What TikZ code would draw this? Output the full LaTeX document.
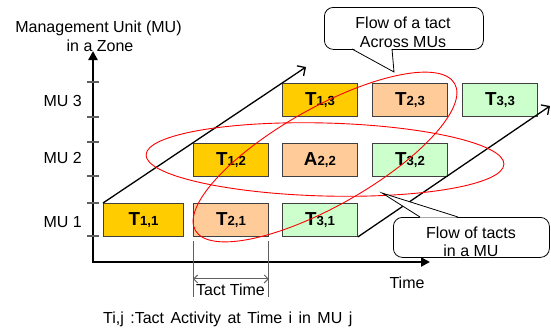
\documentclass[tikz,border=0pt]{standalone}
\usepackage{fontspec}
\setmainfont{Liberation Sans}
\usetikzlibrary{arrows.meta,calc}
\definecolor{cyel}{HTML}{FFCC00}
\definecolor{cpea}{HTML}{FFCC99}
\definecolor{cgrn}{HTML}{CCFFCC}
\definecolor{cedge}{HTML}{404040}
\definecolor{ctick}{HTML}{606060}
\newcommand{\tlab}[3]{{\fontsize{18.8}{18.8}\selectfont\bfseries #1\fontsize{13.2}{13.2}\selectfont #2,#3}}
\begin{document}
\begin{tikzpicture}[x=1pt,y=-1pt,font=\fontsize{16}{16}\selectfont,
  box/.style={draw=cedge,line width=0.9pt,minimum width=75pt,minimum height=33pt,inner sep=0pt,anchor=north west},
  lbl/.style={anchor=base,inner sep=0pt},
  diag/.style={line width=1.3pt,-{Straight Barb[length=6pt,width=12pt,line width=1.3pt]}},
  axis/.style={line width=2.8pt,line join=miter},
  tick/.style={ctick,line width=1.2pt},
  ring/.style={red,line width=0.9pt},
  cbox/.style={draw=black,line width=0.8pt,fill=white,rounded corners=9pt,inner sep=0pt,anchor=north west},
  dim/.style={ctick,line width=1pt}]
\useasboundingbox (0,0) rectangle (551,327);
% boxes
\node[box,fill=cyel,minimum width=80pt] (T11) at (103,203) {\tlab{T}{1}{1}};
\node[box,fill=cpea] (T21) at (193,203) {\tlab{T}{2}{1}};
\node[box,fill=cgrn] (T31) at (282,203) {\tlab{T}{3}{1}};
\node[box,fill=cyel] (T12) at (193,143) {\tlab{T}{1}{2}};
\node[box,fill=cpea] (A22) at (282,143) {\tlab{A}{2}{2}};
\node[box,fill=cgrn] (T32) at (372,143) {\tlab{T}{3}{2}};
\node[box,fill=cyel] (T13) at (282,83) {\tlab{T}{1}{3}};
\node[box,fill=cpea] (T23) at (372,83) {\tlab{T}{2}{3}};
\node[box,fill=cgrn] (T33) at (462,83) {\tlab{T}{3}{3}};
% axes
\coordinate (O) at (93,262);
\coordinate (Ytop) at (93,51);
\coordinate (Xend) at (430,262);
\draw[axis,{Triangle[length=9pt,width=9pt]}-{Triangle[length=9pt,width=9pt]}] (Ytop) -- (O) -- (Xend);
\foreach \y in {82,117,142,176,203,236} \draw[tick] (87,\y) -- (99,\y);
\node[lbl,anchor=base east] (mu3) at (82,106) {MU 3};
\node[lbl,anchor=base east] (mu2) at (82,163) {MU 2};
\node[lbl,anchor=base east] (mu1) at (82,227) {MU 1};
\node[lbl] (ttl1) at (98.5,32) {Management Unit (MU)};
\node[lbl] (ttl2) at (100,51) {in a Zone};
\node[lbl] (tim) at (407,288) {Time};
% diagonals
\coordinate (L1) at (306,67);
\coordinate (L2) at (550,106);
\draw[diag] (T11.north west) -- (L1);
\draw[diag] (T31.south east) -- (L2);
% red ellipses
\draw[ring,rotate around={-1.5:(325,159.5)}] (325,159.5) ellipse [x radius=179pt,y radius=36.5pt];
\draw[ring,rotate around={29.5:(325,157)}] (325,157) ellipse [x radius=149pt,y radius=49pt];
% top callout
\node[cbox,minimum width=159pt,minimum height=42pt] (C1) at (324,7) {};
\fill[white] (352.5,48.3) -- (394,72) -- (391.6,48.3) -- cycle;
\coordinate (P1) at (394,72);
\draw[line width=0.8pt] (352,49) -- (P1) -- (392,49);
\node[lbl] (c1a) at (403,28.3) {Flow of a tact};
\node[lbl] (c1b) at (403,47.7) {Across MUs};
% bottom callout
\node[cbox,minimum width=156pt,minimum height=40pt] (C2) at (393,217) {};
\fill[white] (420.5,217.7) -- (382,193) -- (457.5,217.7) -- cycle;
\coordinate (P2) at (382,193);
\draw[line width=0.8pt] (420,217) -- (P2) -- (458,217);
\node[lbl] (c2a) at (471,238.3) {Flow of tacts};
\node[lbl] (c2b) at (471,256.5) {in a MU};
% tact time
\coordinate (D1a) at ($(T21.south west)+(0,4)$);
\coordinate (D1b) at ($(T21.south west)+(0,60)$);
\coordinate (D2a) at ($(T21.south east)+(0,4)$);
\coordinate (D2b) at ($(T21.south east)+(0,60)$);
\draw[dim] (D1a) -- (D1b);
\draw[dim] (D2a) -- (D2b);
\draw[dim,{Straight Barb[length=4pt,width=8pt]}-{Straight Barb[length=4pt,width=8pt]}] ($(D1a)!0.68!(D1b)$) -- ($(D2a)!0.68!(D2b)$);
\node[lbl] (tt) at (230.5,295) {Tact Time};
\node[lbl,anchor=base west] (leg) at (103,323) {\spaceskip=6.4pt Ti,j :Tact Activity at Time i in MU j};
\end{tikzpicture}
\end{document}
